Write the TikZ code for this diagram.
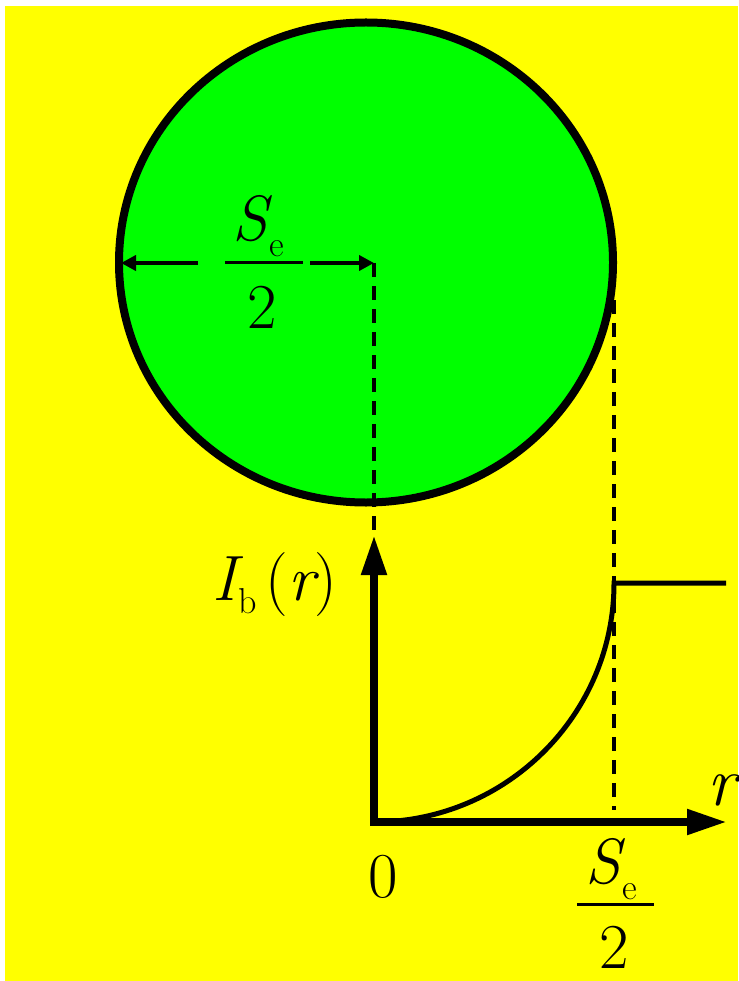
\documentclass[tikz,border=0pt]{standalone}
\usepackage{fontspec}
\usetikzlibrary{arrows.meta}
\definecolor{bgyellow}{RGB}{255,255,0}
\definecolor{discgreen}{RGB}{0,255,0}
\newcommand{\bigf}{\rmfamily\fontsize{64}{64}\selectfont}
\newcommand{\subf}{\rmfamily\fontsize{36}{36}\selectfont}
\begin{document}
\begin{tikzpicture}[x=1pt,y=-1pt,
  lbl/.style={inner sep=0pt, anchor=base, font=\bigf},
  dashln/.style={line width=3.5pt, dash pattern=on 14pt off 9pt},
  dimarrow/.style={line width=4pt, -{Triangle[length=15pt,width=15pt]}},
  axisln/.style={line width=8pt, line join=miter, {Triangle[length=40pt,width=24pt]}-{Triangle[length=40pt,width=24pt]}},
  fracbar/.style={line width=3pt}]
\useasboundingbox (0,0) rectangle (738,981);
\fill[white] (0,0) rectangle (738,981);
\fill[bgyellow] (5,6) rectangle (738,981);
\draw[line width=8pt, fill=discgreen] (366,262.5) ellipse [x radius=247, y radius=240];
% coordinates
\coordinate (C) at (374,263);
\coordinate (L) at (121,263);
\coordinate (Lt) at (198,263);
\coordinate (Rt) at (310,263);
\coordinate (C2) at (374,531);
\coordinate (O) at (374,822);
\coordinate (Y) at (374,535);
\coordinate (X) at (727,822);
\coordinate (P) at (614,583);
\coordinate (E) at (726,583);
\coordinate (D1) at (614,300);
\coordinate (D2) at (614,810);
% dimension arrows
\draw[dimarrow] (Lt) -- (L);
\draw[dimarrow] (Rt) -- (C);
\draw[dashln] (C) -- (C2);
\draw[dashln] (D1) -- (D2);
% upper fraction
\node[lbl] (S1) at (258,241) {\itshape S\upshape\hspace{2pt}\raisebox{-16pt}{\subf e}};
\draw[fracbar] (225,263) -- (303,263);
\node[lbl] (two1) at (262,328) {2};
% axes
\draw[axisln] (Y) -- (O) -- (X);
\draw[line width=5pt] (O) .. controls (506,822) and (614,715) .. (P) -- (E);
% labels
\node[lbl] (Ib) at (275,600) {\itshape I\upshape\hspace{2pt}\raisebox{-13pt}{\subf b}\hspace{8pt}(\itshape r\upshape)};
\node[lbl, font=\rmfamily\fontsize{70}{70}\selectfont\itshape] (rlab) at (722,805) {r};
\node[lbl] (zero) at (383,897) {0};
\node[lbl] (S2) at (611.5,883) {\itshape S\upshape\hspace{2pt}\raisebox{-16pt}{\subf e}};
\draw[fracbar] (577,904) -- (654,904);
\node[lbl] (two2) at (614,968) {2};
\end{tikzpicture}
\end{document}
